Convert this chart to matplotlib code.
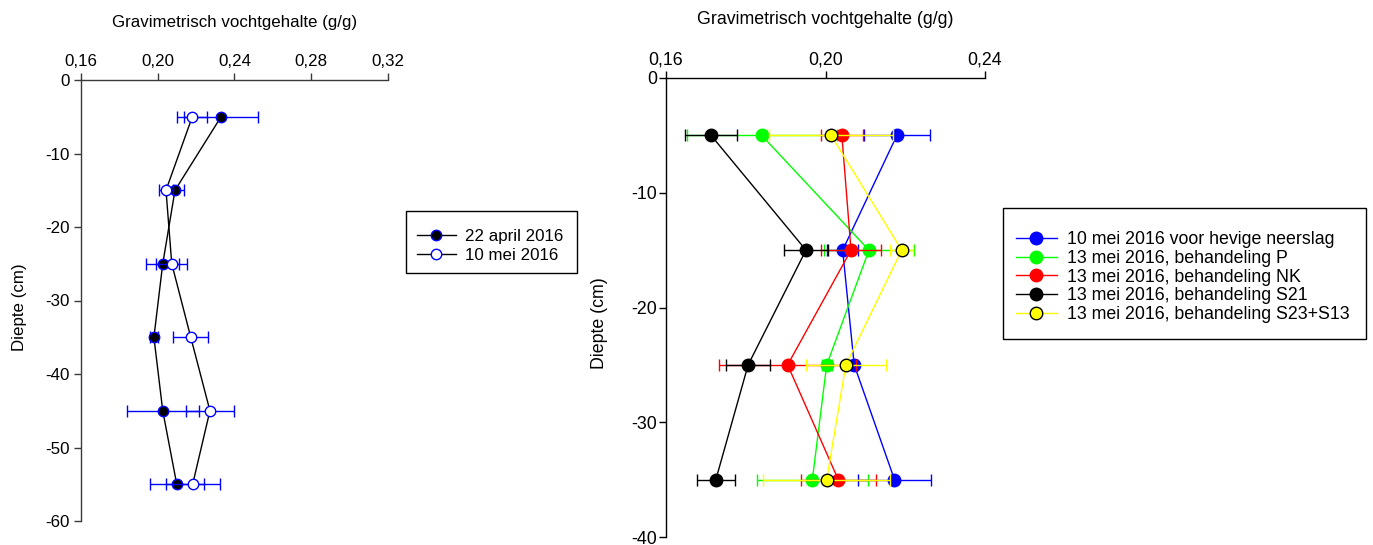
import matplotlib
matplotlib.use("Agg")
import matplotlib.pyplot as plt
from matplotlib.patches import Rectangle

plt.rcParams['font.family'] = ['Liberation Sans', 'DejaVu Sans']
plt.rcParams['axes.unicode_minus'] = False

# ---- Left panel: two sampling dates ----
depth_left = [-5, -15, -25, -35, -45, -55]
apr22 = [0.233, 0.209, 0.2026, 0.198, 0.2026, 0.2099]
apr22_err = [0.0193, 0.0047, 0.0087, 0.0021, 0.0188, 0.0140]
mei10 = [0.218, 0.2043, 0.2073, 0.2172, 0.2272, 0.2182]
mei10_err = [0.0078, 0.0037, 0.0081, 0.0090, 0.0125, 0.0140]
left_labels = ['22 april 2016', '10 mei 2016']
left_xticks = [0.16, 0.20, 0.24, 0.28, 0.32]
left_xticklabels = ['0,16', '0,20', '0,24', '0,28', '0,32']
left_yticks = [0, -10, -20, -30, -40, -50, -60]

# ---- Right panel: treatments after heavy rain ----
depth_right = [-5, -15, -25, -35]
right_labels = ['10 mei 2016 voor hevige neerslag',
                '13 mei 2016, behandeling P',
                '13 mei 2016, behandeling NK',
                '13 mei 2016, behandeling S21',
                '13 mei 2016, behandeling S23+S13']
blue_vals = [0.2179, 0.2043, 0.2072, 0.2173]
blue_err = [0.0082, 0.0039, 0.0006, 0.0092]
green_vals = [0.1840, 0.2109, 0.2003, 0.1967]
green_err = [0.0188, 0.0112, 0.0013, 0.0140]
red_vals = [0.2041, 0.2064, 0.1905, 0.2032]
red_err = [0.0052, 0.0075, 0.0171, 0.0094]
black_vals = [0.1713, 0.1951, 0.1806, 0.1725]
black_err = [0.0065, 0.0055, 0.0055, 0.0047]
yellow_vals = [0.2014, 0.2191, 0.2051, 0.2003]
yellow_err = [0.0155, 0.0029, 0.0101, 0.0160]
right_xticks = [0.16, 0.20, 0.24]
right_xticklabels = ['0,16', '0,20', '0,24']
right_yticks = [0, -10, -20, -30, -40]

W, H = 1373, 545
fig = plt.figure(figsize=(W / 100, H / 100), dpi=100)


def style_axes(ax, xticks, xlabels, yticks, fs, spine_col, labelpad, tickpad):
    for s in ('right', 'bottom'):
        ax.spines[s].set_visible(False)
    for s in ('left', 'top'):
        ax.spines[s].set_linewidth(1.0)
        ax.spines[s].set_color(spine_col)
    ax.xaxis.tick_top()
    ax.xaxis.set_label_position('top')
    ax.set_xticks(xticks)
    ax.set_xticklabels(xlabels)
    ax.set_yticks(yticks)
    ax.set_yticklabels([str(v) for v in yticks])
    ax.tick_params(direction='out', length=5, width=1, labelsize=fs,
                   pad=tickpad, color=spine_col)
    ax.set_xlabel('Gravimetrisch vochtgehalte (g/g)', fontsize=fs,
                  labelpad=labelpad)
    ax.set_ylabel('Diepte (cm)', fontsize=fs)


def framed_legend(handles, labels, fs, x0, y_top, box, spacing):
    leg = fig.legend(handles=handles, labels=labels, loc='upper left',
                     bbox_to_anchor=(x0 / W, 1 - y_top / H), fontsize=fs,
                     frameon=False, handlelength=2.3, handletextpad=0.55,
                     labelspacing=spacing, borderpad=0, borderaxespad=0)
    bx0, by0, bx1, by1 = box
    fig.patches.append(Rectangle((bx0 / W, 1 - by1 / H), (bx1 - bx0) / W,
                                 (by1 - by0) / H, transform=fig.transFigure,
                                 fill=False, edgecolor='black', lw=1.0))
    return leg


# Left axes
FSL = 12.2
axL = fig.add_axes([81 / W, 1 - 521 / H, 307 / W, 441 / H])
axL.set_xlim(0.16, 0.32)
axL.set_ylim(-60, 0)
style_axes(axL, left_xticks, left_xticklabels, left_yticks, FSL, '#3a3a3a',
           labelpad=19, tickpad=3)
axL.yaxis.set_label_coords(-0.175, 0.485)

axL.errorbar(apr22, depth_left, xerr=apr22_err, fmt='none', ecolor='blue',
             elinewidth=1, capsize=4.5, capthick=1, zorder=2)
hA, = axL.plot(apr22, depth_left, color='black', lw=1, marker='o', ms=7.5,
               mfc='black', mec='blue', mew=1, zorder=3)
axL.errorbar(mei10, depth_left, xerr=mei10_err, fmt='none', ecolor='blue',
             elinewidth=1, capsize=4.5, capthick=1, zorder=4)
hB, = axL.plot(mei10, depth_left, color='black', lw=1, marker='o', ms=7.5,
               mfc='white', mec='blue', mew=1, zorder=5)

framed_legend([hA, hB], left_labels, FSL, 417, 229,
              (406, 211, 577, 273), 0.22)

# Right axes
FSR = 12.8
axR = fig.add_axes([666 / W, 1 - 537 / H, 319 / W, 459 / H])
axR.set_xlim(0.16, 0.24)
axR.set_ylim(-40, 0)
style_axes(axR, right_xticks, right_xticklabels, right_yticks, FSR, 'black',
           labelpad=20, tickpad=1.5)
axR.yaxis.set_label_coords(-0.182, 0.466)

series = [
    (blue_vals, blue_err, 'blue', 'blue'),
    (green_vals, green_err, '#00ff00', '#00ff00'),
    (red_vals, red_err, 'red', 'red'),
    (black_vals, black_err, 'black', 'black'),
    (yellow_vals, yellow_err, 'yellow', 'black'),
]
handles = []
for i, (vals, err, col, edge) in enumerate(series):
    axR.errorbar(vals, depth_right, xerr=err, fmt='none', ecolor=col,
                 elinewidth=1, capsize=4.5, capthick=1, zorder=2 + 2 * i)
    h, = axR.plot(vals, depth_right, color=col, lw=1, marker='o', ms=9,
                  mfc=col, mec=edge, mew=1, zorder=3 + 2 * i)
    handles.append(h)

framed_legend(handles, right_labels, FSR, 1016, 231,
              (1003, 208, 1366, 339), 0.10)

fig.savefig('out.png', dpi=100)
